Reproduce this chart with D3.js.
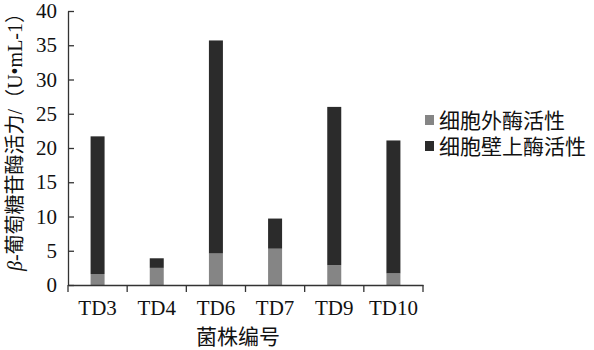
<!DOCTYPE html>
<html lang="zh">
<head>
<meta charset="utf-8">
<title>β-葡萄糖苷酶活力</title>
<style>
  body { margin: 0; background: #fff; }
  svg text { font-family: "Liberation Serif", "Noto Sans CJK SC", serif; fill: #111; }
</style>
<script src="https://d3js.org/d3.v7.min.js"></script>
</head>
<body>
<div id="chart"></div>
<script>
// strains and enzyme activities (U·mL-1)
const strains = ["TD3", "TD4", "TD6", "TD7", "TD9", "TD10"];
const extracellular = [1.6, 2.5, 4.6, 5.3, 2.9, 1.7];
const cellWall = [20.1, 1.4, 31.1, 4.4, 23.1, 19.4];
const seriesNames = ["细胞外酶活性", "细胞壁上酶活性"];
const yTicks = [0, 5, 10, 15, 20, 25, 30, 35, 40];

const width = 594, height = 350;
const margin = {top: 11, right: 171, bottom: 65, left: 68};

const svg = d3.select("#chart").append("svg")
    .attr("width", width)
    .attr("height", height);

const x = d3.scaleBand()
    .domain(strains)
    .range([margin.left, width - margin.right]);

const y = d3.scaleLinear()
    .domain([0, 40])
    .range([height - margin.bottom, margin.top]);

const colors = d3.scaleOrdinal().domain(seriesNames).range(["#858585", "#2b2b2b"]);

const rows = strains.map((s, i) => ({strain: s, [seriesNames[0]]: extracellular[i], [seriesNames[1]]: cellWall[i]}));
const stacked = d3.stack().keys(seriesNames)(rows);

const barW = 14;
svg.append("g").selectAll("g")
  .data(stacked)
  .join("g")
    .attr("fill", d => colors(d.key))
  .selectAll("rect")
  .data(d => d)
  .join("rect")
    .attr("x", d => x(d.data.strain) + x.bandwidth() / 2 - barW / 2)
    .attr("width", barW)
    .attr("y", d => y(d[1]))
    .attr("height", d => y(d[0]) - y(d[1]));

// y axis, ticks pointing into the plot
const yAxis = svg.append("g")
    .attr("transform", `translate(${margin.left},0)`)
    .call(d3.axisLeft(y).tickValues(yTicks).tickSizeInner(-6).tickSizeOuter(0).tickPadding(11));
yAxis.selectAll("text").style("font-size", "21px");
yAxis.selectAll("line, path").attr("stroke", "#333").attr("stroke-width", 1.3);

// x axis with boundary ticks
const xAxis = svg.append("g")
    .attr("transform", `translate(0,${height - margin.bottom})`)
    .call(d3.axisBottom(x).tickSize(0).tickPadding(15));
xAxis.selectAll("text").style("font-size", "21px");
xAxis.select("path").attr("stroke", "#333").attr("stroke-width", 1.3);
const bounds = strains.map(s => x(s)).concat([x(strains[strains.length - 1]) + x.bandwidth()]);
xAxis.selectAll("line.bound")
  .data(bounds)
  .join("line")
    .attr("class", "bound")
    .attr("x1", d => d).attr("x2", d => d)
    .attr("y1", 0).attr("y2", 7)
    .attr("stroke", "#333").attr("stroke-width", 1.3);

// axis titles
svg.append("text")
    .attr("x", 238)
    .attr("y", 344)
    .attr("text-anchor", "middle")
    .style("font-size", "21px")
    .text("菌株编号");

const yTitle = svg.append("text")
    .attr("transform", "translate(22,137) rotate(-90)")
    .attr("text-anchor", "middle")
    .style("font-size", "20px");
yTitle.append("tspan").style("font-style", "italic").text("β");
yTitle.append("tspan").text("-葡萄糖苷酶活力/（U•mL-1）");

// legend
const legend = svg.append("g").selectAll("g")
  .data(seriesNames)
  .join("g")
    .attr("transform", (d, i) => `translate(425,${115 + i * 26})`);
legend.append("rect")
    .attr("width", 9).attr("height", 10)
    .attr("fill", d => colors(d));
legend.append("text")
    .attr("x", 14).attr("y", 5)
    .attr("dy", "0.36em")
    .style("font-size", "21px")
    .text(d => d);
</script>
</body>
</html>
